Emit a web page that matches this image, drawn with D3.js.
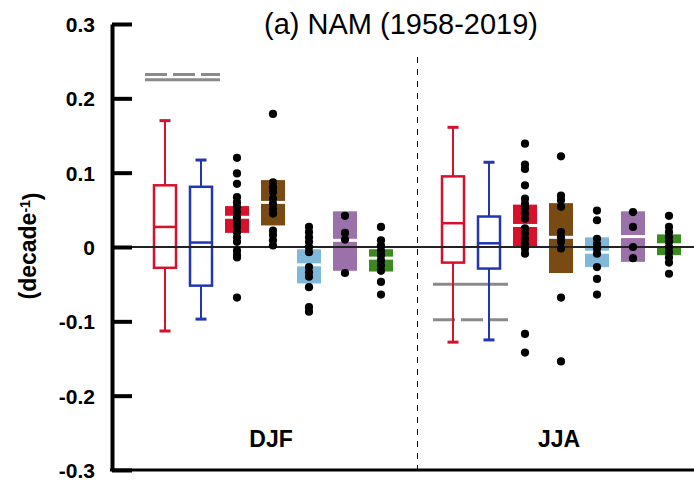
<!DOCTYPE html>
<html>
<head>
<meta charset="utf-8">
<script src="https://cdn.jsdelivr.net/npm/d3@7"></script>
<style>
  html, body { margin: 0; padding: 0; background: #fff; }
  svg { display: block; font-family: "Liberation Sans", Arial, Helvetica, sans-serif; }
</style>
</head>
<body>
<svg id="chart" width="694" height="481"></svg>
<script>
// ---- data -------------------------------------------------------------
const seasons = ["DJF", "JJA"];
const seriesNames = ["allRed", "allBlue", "red", "brown", "lightblue", "purple", "green"];
const seriesColors = {
  allRed: "#d5112b", allBlue: "#2236b3", red: "#d5112b", brown: "#7a4a13",
  lightblue: "#80b8d9", purple: "#9b71aa", green: "#3c8a1f"
};
const yTicks = [-0.3, -0.2, -0.1, 0, 0.1, 0.2, 0.3];

// open box plots: [whisker low, q1, median, q3, whisker high]
const openBoxDJF = {
  allRed:  [-0.113, -0.028, 0.027, 0.083, 0.170],
  allBlue: [-0.097, -0.052, 0.006, 0.081, 0.117]
};
const openBoxJJA = {
  allRed:  [-0.128, -0.021, 0.032, 0.095, 0.161],
  allBlue: [-0.125, -0.029, 0.005, 0.041, 0.114]
};

// filled boxes: [low, median, high]
const fillBoxDJF = {
  red:       [0.019, 0.040, 0.055],
  brown:     [0.029, 0.060, 0.090],
  lightblue: [-0.049, -0.024, -0.003],
  purple:    [-0.032, 0.009, 0.048],
  green:     [-0.033, -0.015, -0.003]
};
const fillBoxJJA = {
  red:       [0.001, 0.029, 0.057],
  brown:     [-0.035, 0.013, 0.059],
  lightblue: [-0.027, -0.007, 0.013],
  purple:    [-0.020, 0.014, 0.048],
  green:     [-0.011, 0.003, 0.017]
};

// individual members
const dotsDJF = {
  red: [0.120, 0.099, 0.085, 0.067, 0.060, 0.054, 0.047, 0.040, 0.033, 0.027, 0.020, 0.013, 0.007, -0.005, -0.011, -0.014, -0.068],
  brown: [0.179, 0.087, 0.080, 0.074, 0.065, 0.058, 0.051, 0.045, 0.022, 0.016, 0.009, 0.002],
  lightblue: [0.027, 0.020, 0.013, 0.007, 0.000, -0.007, -0.027, -0.034, -0.040, -0.054, -0.081, -0.087],
  purple: [0.042, 0.019, 0.010, -0.035],
  green: [0.027, 0.009, 0.002, -0.005, -0.011, -0.018, -0.025, -0.032, -0.047, -0.064]
};
const dotsJJA = {
  red: [0.139, 0.111, 0.105, 0.083, 0.065, 0.058, 0.052, 0.045, 0.038, 0.025, 0.018, 0.011, 0.004, -0.002, -0.009, -0.117, -0.142],
  brown: [0.122, 0.069, 0.063, 0.054, 0.020, 0.013, 0.007, -0.002, -0.068, -0.154],
  lightblue: [0.049, 0.036, 0.011, 0.004, -0.002, -0.009, -0.027, -0.043, -0.064],
  purple: [0.047, 0.027, 0.000, -0.015],
  green: [0.042, 0.027, 0.020, 0.013, 0.007, 0.000, -0.007, -0.014, -0.021, -0.036]
};

// reference trends: solid and dashed grey lines
const obsSolid  = { DJF: 0.225, JJA: -0.050 };
const obsDashed = { DJF: 0.232, JJA: -0.098 };

const openBoxes = { DJF: openBoxDJF, JJA: openBoxJJA };
const fillBoxes = { DJF: fillBoxDJF, JJA: fillBoxJJA };
const dots = { DJF: dotsDJF, JJA: dotsJJA };

// ---- layout -----------------------------------------------------------
const svg = d3.select("#chart");
const slots = [];
seasons.forEach((s, i) => {
  if (i > 0) slots.push("gap");
  seriesNames.forEach(n => slots.push(s + "|" + n));
});
const x = d3.scalePoint().domain(slots).range([165, 669]);
const y = d3.scaleLinear().domain([-0.3, 0.3]).range([470, 24]);
const axisX = 112;
const xs = (s, n) => x(s + "|" + n);

// season separator
svg.append("line")
  .attr("x1", x("gap") + 0.5).attr("x2", x("gap") + 0.5)
  .attr("y1", 57).attr("y2", y(-0.3))
  .attr("stroke", "#000").attr("stroke-width", 1)
  .attr("stroke-dasharray", "6,6");

// grey reference lines spanning the two open boxes
seasons.forEach(s => {
  const x1 = xs(s, "allRed") - 20, x2 = xs(s, "allBlue") + 19;
  svg.append("line").attr("x1", x1).attr("x2", x2)
    .attr("y1", y(obsSolid[s])).attr("y2", y(obsSolid[s]))
    .attr("stroke", "#8a8a8a").attr("stroke-width", 3);
  svg.append("line").attr("x1", x1).attr("x2", x2)
    .attr("y1", y(obsDashed[s])).attr("y2", y(obsDashed[s]))
    .attr("stroke", "#8a8a8a").attr("stroke-width", 3)
    .attr("stroke-dasharray", "22,6");
});

// open box plots with whiskers
seasons.forEach(s => {
  Object.entries(openBoxes[s]).forEach(([n, v]) => {
    const cx = xs(s, n), c = seriesColors[n], w = 22, cap = 11;
    const g = svg.append("g").attr("stroke", c).attr("fill", "none");
    g.append("line").attr("x1", cx).attr("x2", cx).attr("y1", y(v[4])).attr("y2", y(v[3])).attr("stroke-width", 2);
    g.append("line").attr("x1", cx).attr("x2", cx).attr("y1", y(v[1])).attr("y2", y(v[0])).attr("stroke-width", 2);
    g.append("line").attr("x1", cx - cap / 2).attr("x2", cx + cap / 2).attr("y1", y(v[4])).attr("y2", y(v[4])).attr("stroke-width", 3);
    g.append("line").attr("x1", cx - cap / 2).attr("x2", cx + cap / 2).attr("y1", y(v[0])).attr("y2", y(v[0])).attr("stroke-width", 3);
    g.append("rect").attr("x", cx - w / 2).attr("width", w)
      .attr("y", y(v[3])).attr("height", y(v[1]) - y(v[3]))
      .attr("fill", "#fff").attr("stroke-width", 2.5);
    g.append("line").attr("x1", cx - w / 2).attr("x2", cx + w / 2).attr("y1", y(v[2])).attr("y2", y(v[2])).attr("stroke-width", 2.5);
  });
});

// filled boxes with a white median gap
seasons.forEach(s => {
  Object.entries(fillBoxes[s]).forEach(([n, v]) => {
    const cx = xs(s, n), w = 24;
    svg.append("rect").attr("x", cx - w / 2).attr("width", w)
      .attr("y", y(v[2])).attr("height", y(v[0]) - y(v[2]))
      .attr("fill", seriesColors[n]);
    svg.append("line").attr("x1", cx - w / 2).attr("x2", cx + w / 2)
      .attr("y1", y(v[1])).attr("y2", y(v[1]))
      .attr("stroke", "#fff").attr("stroke-width", 3);
  });
});

// zero line
svg.append("line").attr("x1", axisX).attr("x2", 694)
  .attr("y1", y(0)).attr("y2", y(0))
  .attr("stroke", "#222").attr("stroke-width", 2.2);

// member dots
seasons.forEach(s => {
  Object.entries(dots[s]).forEach(([n, vals]) => {
    svg.append("g").selectAll("circle").data(vals).join("circle")
      .attr("cx", xs(s, n)).attr("cy", d => y(d)).attr("r", 4.1)
      .attr("fill", "#000");
  });
});

// y axis with inward ticks
const yAxis = d3.axisLeft(y).tickValues(yTicks)
  .tickSizeInner(-20).tickSizeOuter(0).tickPadding(17)
  .tickFormat(d => d === 0 ? "0" : d.toFixed(1));
const ga = svg.append("g").attr("transform", `translate(${axisX},0)`).call(yAxis);
ga.select(".domain").attr("stroke", "#000").attr("stroke-width", 4);
ga.selectAll(".tick line").attr("stroke", "#000").attr("stroke-width", 4);
ga.selectAll(".tick text").attr("fill", "#000").attr("dy", "0.36em")
  .style("font-size", "21px").style("font-weight", "bold")
  .style("font-family", "'Liberation Sans', Arial, sans-serif");

// bottom frame line
svg.append("line").attr("x1", axisX - 2).attr("x2", 694)
  .attr("y1", y(-0.3)).attr("y2", y(-0.3))
  .attr("stroke", "#000").attr("stroke-width", 3);

// season labels
seasons.forEach(s => {
  const cx = (xs(s, seriesNames[0]) + xs(s, seriesNames[seriesNames.length - 1])) / 2;
  svg.append("text").attr("x", cx - 2).attr("y", 447)
    .attr("text-anchor", "middle").style("font-size", "23px").style("font-weight", "bold")
    .text(s);
});

// title
svg.append("text").attr("x", 401).attr("y", 34).attr("text-anchor", "middle")
  .style("font-size", "29px").text("(a) NAM (1958-2019)");

// y-axis label
const yl = svg.append("text")
  .attr("transform", "translate(36,246) rotate(-90)")
  .attr("text-anchor", "middle").style("font-size", "23px").style("font-weight", "bold");
yl.append("tspan").text("(decade");
yl.append("tspan").attr("dy", "-0.45em").style("font-size", "14px").text("-1");
yl.append("tspan").attr("dy", "0.45em").text(")");
</script>
</body>
</html>
